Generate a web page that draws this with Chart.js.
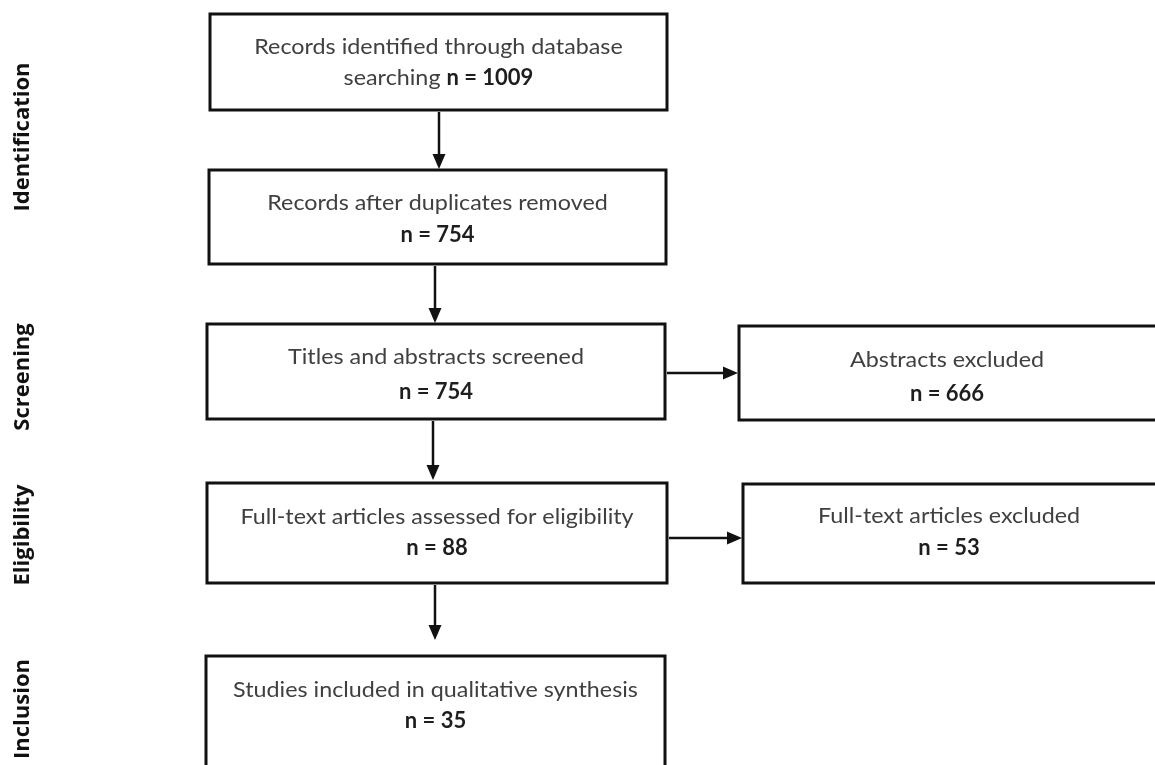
<!DOCTYPE html>
<html>
<head>
<meta charset="utf-8">
<script src="https://cdn.jsdelivr.net/npm/chart.js@4.4.1/dist/chart.umd.min.js"></script>
<style>
  html, body { margin: 0; padding: 0; background: #ffffff; }
  #wrap { width: 1155px; height: 765px; position: relative; }
</style>
</head>
<body>
<div id="wrap"><canvas id="c" width="1155" height="765"></canvas></div>
<script>
// ---- Data ----
const stageLabels = ['Identification', 'Screening', 'Eligibility', 'Inclusion'];
const boxTitles = [
  ['Records identified through database', 'searching'],
  ['Records after duplicates removed'],
  ['Titles and abstracts screened'],
  ['Abstracts excluded'],
  ['Full-text articles assessed for eligibility'],
  ['Full-text articles excluded'],
  ['Studies included in qualitative synthesis']
];
const boxCounts = [1009, 754, 754, 666, 88, 53, 35];
// flows: [from box index, to box index]
const flows = [[0, 1], [1, 2], [2, 4], [4, 6], [2, 3], [4, 5]];

// ---- Layout (data-space coordinates on a 1155 x 765 grid) ----
const boxLayout = [
  { x0: 210, y0: 14,  x1: 667,  y1: 110, l1: 47,  l2: 78 },
  { x0: 209, y0: 170, x1: 666,  y1: 264, l1: 203, l2: 235 },
  { x0: 207, y0: 324, x1: 665,  y1: 419, l1: 357, l2: 392 },
  { x0: 739, y0: 326, x1: 1165, y1: 420, l1: 360, l2: 394 },
  { x0: 207, y0: 483, x1: 667,  y1: 583, l1: 517, l2: 548 },
  { x0: 743, y0: 484, x1: 1165, y1: 583, l1: 516, l2: 548 },
  { x0: 206, y0: 656, x1: 665,  y1: 790, l1: 690, l2: 721 }
];
const arrowLayout = [
  { x: 439, y0: 112, y1: 169 },
  { x: 435, y0: 266, y1: 323 },
  { x: 433, y0: 421, y1: 480 },
  { x: 435, y0: 585, y1: 640 },
  { y: 373, x0: 667, x1: 738 },
  { y: 538, x0: 669, x1: 742 }
];
const stageLayout = [
  { x: 23, y: 137 },
  { x: 23, y: 377 },
  { x: 23, y: 535 },
  { x: 23, y: 709 }
];

const textFont = 'Lato, "Open Sans", sans-serif';
const normalColor = '#404040';
const boldColor = '#1e1e1e';
const fontPx = 22;
const stretch = 1.06;

const flowPlugin = {
  id: 'flow',
  afterDatasetsDraw(chart) {
    const ctx = chart.ctx;
    const xs = chart.scales.x, ys = chart.scales.y;
    const px = v => xs.getPixelForValue(v);
    const py = v => ys.getPixelForValue(v);
    ctx.save();

    // boxes
    ctx.strokeStyle = '#111111';
    ctx.lineWidth = 3;
    boxLayout.forEach(b => {
      ctx.strokeRect(px(b.x0), py(b.y0), px(b.x1) - px(b.x0), py(b.y1) - py(b.y0));
    });

    // arrows
    ctx.fillStyle = '#111111';
    ctx.lineWidth = 2.5;
    flows.forEach((f, i) => {
      const a = arrowLayout[i];
      const head = 15, half = 6.5;
      ctx.beginPath();
      if (a.x !== undefined) {
        const x = px(a.x), ya = py(a.y0), yb = py(a.y1);
        ctx.moveTo(x, ya); ctx.lineTo(x, yb - head + 1); ctx.stroke();
        ctx.beginPath();
        ctx.moveTo(x - half, yb - head); ctx.lineTo(x + half, yb - head); ctx.lineTo(x, yb);
        ctx.closePath(); ctx.fill();
      } else {
        const y = py(a.y), xa = px(a.x0), xb = px(a.x1);
        ctx.moveTo(xa, y); ctx.lineTo(xb - head + 1, y); ctx.stroke();
        ctx.beginPath();
        ctx.moveTo(xb - head, y - half); ctx.lineTo(xb - head, y + half); ctx.lineTo(xb, y);
        ctx.closePath(); ctx.fill();
      }
    });

    // helper: draw normal text horizontally stretched
    function normalText(str, x, y, align) {
      ctx.save();
      ctx.translate(x, y);
      ctx.scale(stretch, 1);
      ctx.textAlign = align;
      ctx.font = fontPx + 'px ' + textFont;
      ctx.fillStyle = normalColor;
      ctx.fillText(str, 0, 0);
      ctx.restore();
    }

    // box texts
    ctx.textBaseline = 'middle';
    boxTitles.forEach((lines, i) => {
      const b = boxLayout[i];
      const right = Math.min(px(b.x1), px(1155));
      const cxBox = (px(b.x0) + right) / 2;
      const countStr = 'n = ' + boxCounts[i];
      normalText(lines[0], cxBox, py(b.l1), 'center');
      if (lines.length > 1) {
        const pre = lines[1] + ' ';
        ctx.font = fontPx + 'px ' + textFont;
        const w1 = ctx.measureText(pre).width * stretch;
        ctx.font = 'bold ' + fontPx + 'px ' + textFont;
        const w2 = ctx.measureText(countStr).width;
        const start = cxBox - (w1 + w2) / 2;
        normalText(pre, start, py(b.l2), 'left');
        ctx.textAlign = 'left';
        ctx.font = 'bold ' + fontPx + 'px ' + textFont;
        ctx.fillStyle = boldColor;
        ctx.fillText(countStr, start + w1, py(b.l2));
      } else {
        ctx.textAlign = 'center';
        ctx.font = 'bold ' + fontPx + 'px ' + textFont;
        ctx.fillStyle = boldColor;
        ctx.fillText(countStr, cxBox, py(b.l2));
      }
    });

    // stage labels (rotated)
    ctx.font = 'bold 22px "Open Sans", sans-serif';
    ctx.fillStyle = '#111111';
    ctx.textAlign = 'center';
    ctx.textBaseline = 'middle';
    stageLabels.forEach((s, i) => {
      const p = stageLayout[i];
      ctx.save();
      ctx.translate(px(p.x), py(p.y));
      ctx.rotate(-Math.PI / 2);
      ctx.fillText(s, 0, 0);
      ctx.restore();
    });

    ctx.restore();
  }
};

new Chart(document.getElementById('c'), {
  type: 'scatter',
  data: { datasets: [{ data: [], pointRadius: 0 }] },
  options: {
    responsive: false,
    animation: false,
    layout: { padding: 0 },
    plugins: { legend: { display: false }, tooltip: { enabled: false } },
    scales: {
      x: { type: 'linear', min: 0, max: 1155, display: false },
      y: { type: 'linear', min: 0, max: 765, reverse: true, display: false }
    }
  },
  plugins: [flowPlugin]
});
</script>
</body>
</html>
